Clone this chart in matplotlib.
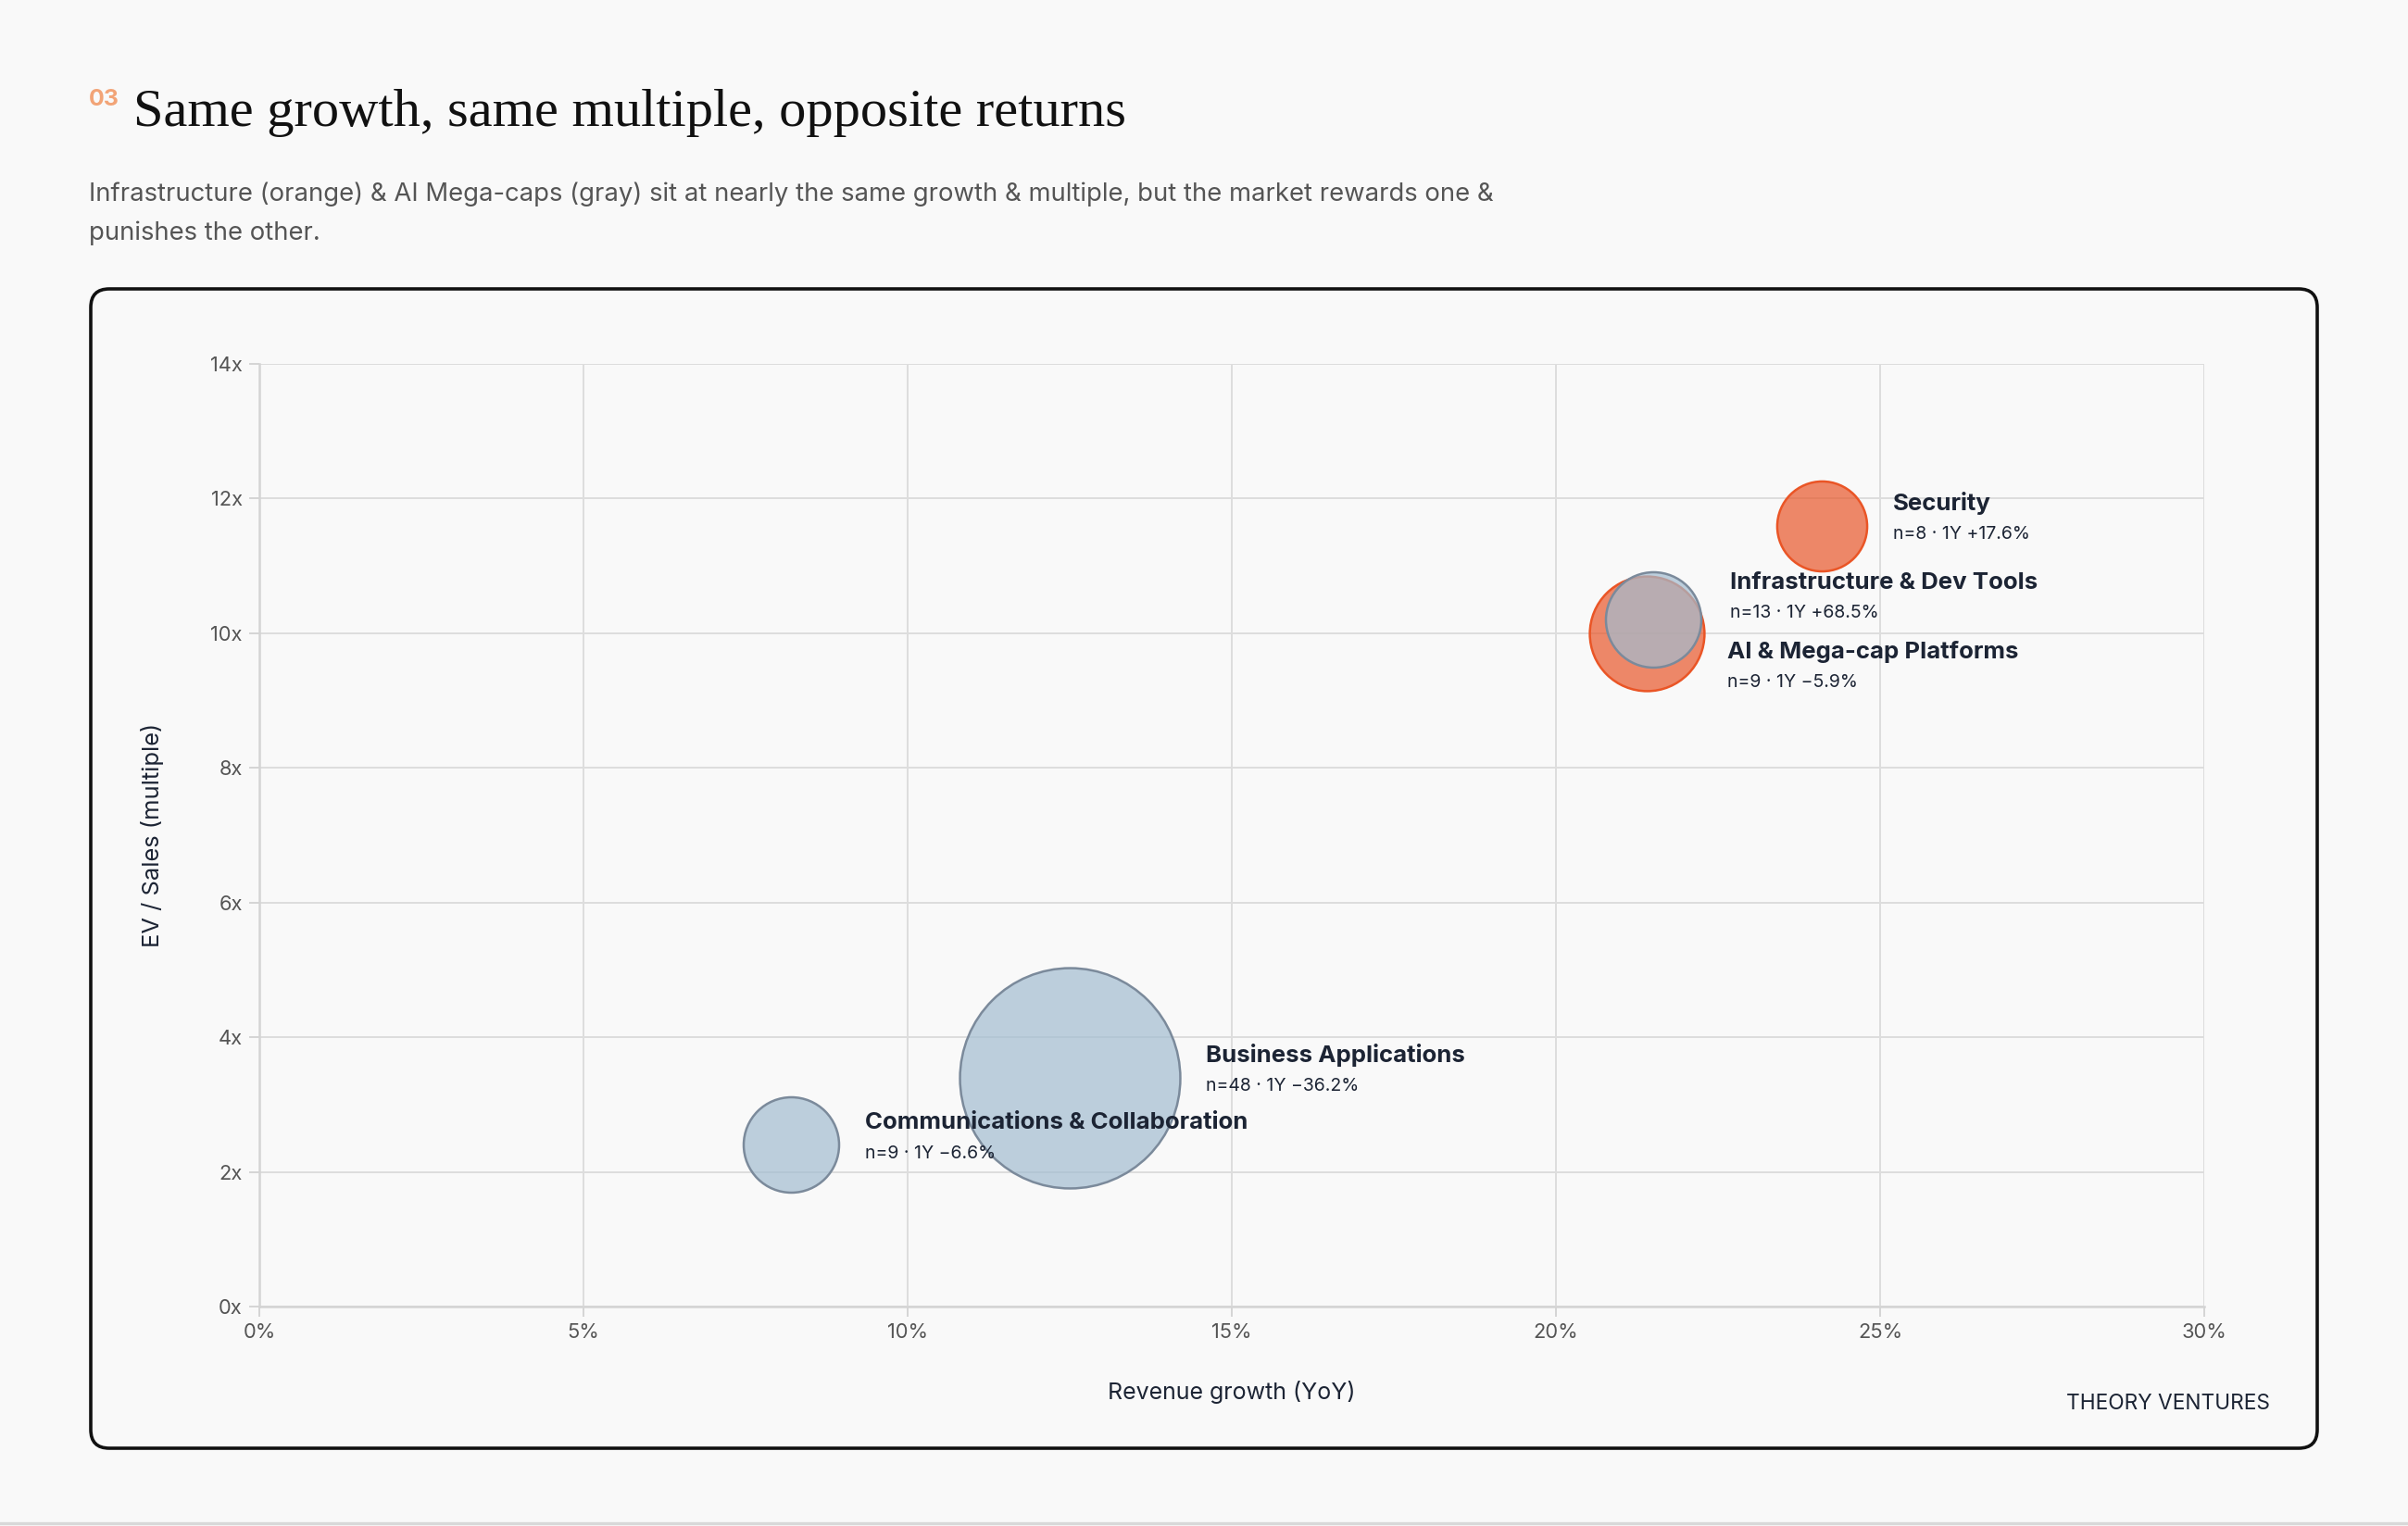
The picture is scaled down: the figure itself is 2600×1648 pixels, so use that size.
import numpy as np
import matplotlib
matplotlib.use("Agg")
import matplotlib.pyplot as plt
from matplotlib.patches import FancyBboxPatch

# data
sectors = ["Security", "Infrastructure & Dev Tools", "AI & Mega-cap Platforms",
           "Business Applications", "Communications & Collaboration"]
growth = [24.1, 21.4, 21.5, 12.5, 8.2]        # revenue growth YoY, %
multiple = [11.6, 10.0, 10.2, 3.4, 2.4]       # EV / Sales
count = [8, 13, 9, 48, 9]                     # n companies
ret_1y = [17.6, 68.5, -5.9, -36.2, -6.6]      # 1Y return, %
highlight = [True, True, False, False, False]

x_ticks = [0, 5, 10, 15, 20, 25, 30]
y_ticks = [0, 2, 4, 6, 8, 10, 12, 14]

BG = "#f9f9f9"
INK = "#1c2434"
ORANGE_FACE = (0.91, 0.34, 0.165, 0.7)
ORANGE_EDGE = "#ea5526"
GRAY_FACE = (0.635, 0.74, 0.82, 0.7)
GRAY_EDGE = "#7b8a9b"

SANS = ["Inter", "DejaVu Sans"]
plt.rcParams["font.family"] = SANS

W, H, DPI = 2600, 1648, 200
fig = plt.figure(figsize=(W / DPI, H / DPI), dpi=DPI, facecolor=BG)

# overlay in pixel coordinates for the page furniture
page = fig.add_axes([0, 0, 1, 1], zorder=0)
page.set_xlim(0, W)
page.set_ylim(H, 0)
page.axis("off")
page.add_patch(FancyBboxPatch((98, 312), 2404, 1252,
                              boxstyle="round,pad=0,rounding_size=20",
                              facecolor=BG, edgecolor="#111111", linewidth=1.3))
page.plot([0, W], [1645, 1645], color="#d8d8d8", linewidth=1.2)

page.text(96, 114, "03", color="#f2a477", fontsize=9, fontweight="bold",
          ha="left", va="baseline")
page.text(144, 136, "Same growth, same multiple, opposite returns",
          family=["Liberation Serif", "DejaVu Serif"], fontsize=21,
          color="#111111", ha="left", va="baseline")
page.text(96, 210, "Infrastructure (orange) & AI Mega-caps (gray) sit at nearly the same growth & multiple, but the market rewards one &",
          fontsize=9.9, color="#555555", ha="left", va="center")
page.text(96, 252, "punishes the other.",
          fontsize=9.9, color="#555555", ha="left", va="center")
page.text(2451, 1516, "THEORY VENTURES",
          fontsize=8.2, color=INK, ha="right", va="center")

# chart axes
ax = fig.add_axes([280 / W, 1 - 1411 / H, 2100 / W, 1018 / H], zorder=1)
ax.set_facecolor("none")
ax.set_xlim(0, 30)
ax.set_ylim(0, 14)
ax.set_xticks(x_ticks)
ax.set_xticklabels([f"{t}%" for t in x_ticks])
ax.set_yticks(y_ticks)
ax.set_yticklabels([f"{t}x" for t in y_ticks])
ax.grid(True, color="#dddddd", linewidth=0.7)
ax.set_axisbelow(True)
for side in ["top", "right"]:
    ax.spines[side].set_visible(False)
for side in ["left", "bottom"]:
    ax.spines[side].set_color("#d4d4d4")
    ax.spines[side].set_linewidth(0.9)
ax.tick_params(length=4, width=0.7, color="#d4d4d4", labelsize=7.9,
               labelcolor="#555555", pad=2.5)
ax.set_xlabel("Revenue growth (YoY)", fontsize=9.0, color=INK, labelpad=15)
ax.set_ylabel("EV / Sales (multiple)", fontsize=9.2, color=INK, labelpad=18)

# bubbles: area proportional to n, big ones drawn first
scale = 152.8
order = list(np.argsort(count)[::-1])
for z, i in enumerate(order):
    face = ORANGE_FACE if highlight[i] else GRAY_FACE
    edge = ORANGE_EDGE if highlight[i] else GRAY_EDGE
    ax.scatter(growth[i], multiple[i], s=scale * count[i], facecolors=[face],
               edgecolors=edge, linewidths=0.9, zorder=3 + z)

# labels to the right of each bubble (offsets in points)
name_dy = {"Infrastructure & Dev Tools": 19.7, "AI & Mega-cap Platforms": -12.5}
for i, name in enumerate(sectors):
    r_pt = 6.18 * np.sqrt(count[i])
    dx = r_pt + 10.2
    dy = name_dy.get(name, 8.6)
    ax.annotate(name, (growth[i], multiple[i]), xytext=(dx, dy),
                textcoords="offset points", fontsize=9.3, fontweight="bold",
                color=INK, ha="left", va="center", zorder=20)
    ax.annotate(f"n={count[i]} · 1Y {ret_1y[i]:+.1f}%".replace("-", "−"),
                (growth[i], multiple[i]), xytext=(dx, dy - 12),
                textcoords="offset points", fontsize=7.0, color=INK,
                ha="left", va="center", zorder=20)

fig.savefig("out.png", dpi=DPI, facecolor=BG)
